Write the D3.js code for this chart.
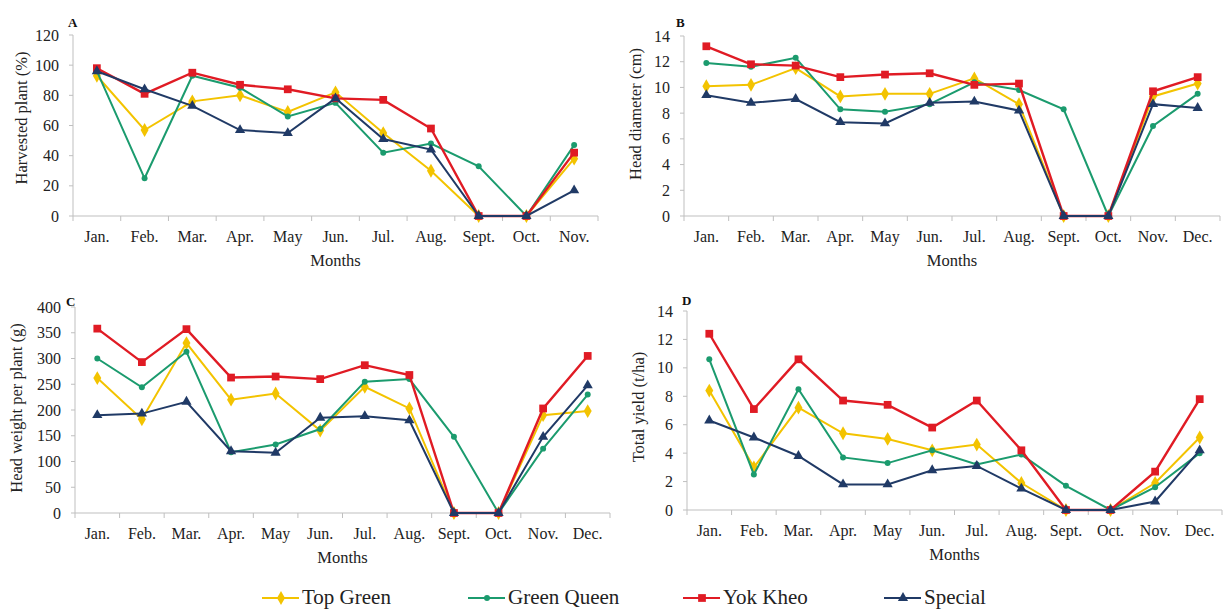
<!DOCTYPE html>
<html lang="en">
<head>
  <meta charset="UTF-8">
  <title>Monthly harvest, head size and yield</title>
  <script src="https://d3js.org/d3.v7.min.js"></script>
  <style>
    body { margin: 0; background: #ffffff; }
    text { font-family: "Liberation Serif", "DejaVu Serif", "Times New Roman", serif; }
    .axis-line { stroke: #bfbfbf; stroke-width: 1; fill: none; }
    .tick-label { font-size: 16px; fill: #222; }
    .axis-title { font-size: 16.5px; fill: #222; }
    .panel-letter { font-size: 13px; font-weight: bold; fill: #111; }
    .legend-text { font-size: 21px; fill: #222; }
  </style>
</head>
<body>
<svg width="1225" height="610"></svg>

<script>
  const months = ["Jan.", "Feb.", "Mar.", "Apr.", "May", "Jun.", "Jul.", "Aug.", "Sept.", "Oct.", "Nov.", "Dec."];
  const varieties = ["Top Green", "Green Queen", "Yok Kheo", "Special"];

  // A - harvested plant (%), Jan..Nov
  const harvestedTopGreen   = [93, 57, 76, 80, 69, 82, 55, 30, 0, 0, 38];
  const harvestedGreenQueen = [96, 25, 93, 85, 66, 75, 42, 48, 33, 0, 47];
  const harvestedYokKheo    = [98, 81, 95, 87, 84, 78, 77, 58, 0, 0, 42];
  const harvestedSpecial    = [96, 84, 73, 57, 55, 78, 51, 44, 0, 0, 17];

  // B - head diameter (cm)
  const diameterTopGreen   = [10.1, 10.2, 11.5, 9.3, 9.5, 9.5, 10.7, 8.7, 0, 0, 9.3, 10.3];
  const diameterGreenQueen = [11.9, 11.6, 12.3, 8.3, 8.1, 8.7, 10.4, 9.8, 8.3, 0, 7.0, 9.5];
  const diameterYokKheo    = [13.2, 11.8, 11.7, 10.8, 11.0, 11.1, 10.2, 10.3, 0, 0, 9.7, 10.8];
  const diameterSpecial    = [9.4, 8.8, 9.1, 7.3, 7.2, 8.8, 8.9, 8.2, 0, 0, 8.7, 8.4];

  // C - head weight per plant (g)
  const weightTopGreen   = [262, 182, 330, 220, 232, 160, 245, 203, 0, 0, 190, 198];
  const weightGreenQueen = [300, 244, 313, 118, 133, 163, 255, 260, 148, 0, 125, 230];
  const weightYokKheo    = [358, 293, 357, 263, 265, 260, 287, 268, 0, 0, 203, 305];
  const weightSpecial    = [190, 193, 216, 120, 117, 185, 188, 180, 0, 0, 148, 248];

  // D - total yield (t/ha)
  const yieldTopGreen   = [8.4, 3.0, 7.2, 5.4, 5.0, 4.2, 4.6, 1.9, 0, 0, 1.9, 5.1];
  const yieldGreenQueen = [10.6, 2.5, 8.5, 3.7, 3.3, 4.2, 3.2, 3.9, 1.7, 0, 1.6, 4.0];
  const yieldYokKheo    = [12.4, 7.1, 10.6, 7.7, 7.4, 5.8, 7.7, 4.2, 0, 0, 2.7, 7.8];
  const yieldSpecial    = [6.3, 5.1, 3.8, 1.8, 1.8, 2.8, 3.1, 1.5, 0, 0, 0.6, 4.2];

  const colors = {
    "Top Green": "#f3c300",
    "Green Queen": "#1b9b6e",
    "Yok Kheo": "#e01b24",
    "Special": "#203a66"
  };
  const symbols = {
    "Top Green": d3.symbol().type(d3.symbolDiamond).size(55),
    "Green Queen": d3.symbol().type(d3.symbolCircle).size(28),
    "Yok Kheo": d3.symbol().type(d3.symbolSquare).size(60),
    "Special": d3.symbol().type(d3.symbolTriangle).size(45)
  };

  const panels = [
    { letter: "A", title: "Harvested plant (%)", yMax: 120, yStep: 20, n: 11,
      left: 73, right: 598, top: 35, bottom: 216, titleX: 21, titleY: 118, letterX: 68, letterY: 27,
      series: [harvestedTopGreen, harvestedGreenQueen, harvestedYokKheo, harvestedSpecial] },
    { letter: "B", title: "Head diameter (cm)", yMax: 14, yStep: 2, n: 12,
      left: 684, right: 1220, top: 36, bottom: 216, titleX: 635, titleY: 114, letterX: 676, letterY: 27,
      series: [diameterTopGreen, diameterGreenQueen, diameterYokKheo, diameterSpecial] },
    { letter: "C", title: "Head weight per plant (g)", yMax: 400, yStep: 50, n: 12,
      left: 75, right: 610, top: 307, bottom: 513, titleX: 16, titleY: 408, letterX: 66, letterY: 306,
      series: [weightTopGreen, weightGreenQueen, weightYokKheo, weightSpecial] },
    { letter: "D", title: "Total yield (t/ha)", yMax: 14, yStep: 2, n: 12,
      left: 687, right: 1222, top: 311, bottom: 510, titleX: 638, titleY: 407, letterX: 682, letterY: 305,
      series: [yieldTopGreen, yieldGreenQueen, yieldYokKheo, yieldSpecial] }
  ];

  const svg = d3.select("svg");

  panels.forEach(p => {
    const cats = months.slice(0, p.n);
    const x = d3.scaleBand().domain(cats).range([p.left, p.right]).padding(0);
    const y = d3.scaleLinear().domain([0, p.yMax]).range([p.bottom, p.top]);
    const cx = m => x(m) + x.bandwidth() / 2;
    const g = svg.append("g");

    // axes
    g.append("line").attr("class", "axis-line")
      .attr("x1", p.left).attr("x2", p.left).attr("y1", y(p.yMax)).attr("y2", p.bottom);
    g.append("line").attr("class", "axis-line")
      .attr("x1", p.left).attr("x2", p.right).attr("y1", p.bottom).attr("y2", p.bottom);

    const yTicks = d3.range(0, p.yMax + p.yStep / 2, p.yStep);
    g.selectAll(".ytick").data(yTicks).join("line").attr("class", "axis-line")
      .attr("x1", p.left - 4).attr("x2", p.left)
      .attr("y1", d => y(d)).attr("y2", d => y(d));
    g.selectAll(".ylab").data(yTicks).join("text").attr("class", "tick-label")
      .attr("x", p.left - 14).attr("y", d => y(d)).attr("dy", "0.35em")
      .attr("text-anchor", "end").text(d => d);

    const bounds = cats.map(m => x(m)).concat([p.right]);
    g.selectAll(".xtick").data(bounds).join("line").attr("class", "axis-line")
      .attr("x1", d => d).attr("x2", d => d).attr("y1", p.bottom).attr("y2", p.bottom + 5);
    g.selectAll(".xlab").data(cats).join("text").attr("class", "tick-label")
      .attr("x", cx).attr("y", p.bottom + 26).attr("text-anchor", "middle").text(d => d);

    g.append("text").attr("class", "axis-title")
      .attr("x", (p.left + p.right) / 2).attr("y", p.bottom + 50)
      .attr("text-anchor", "middle").text("Months");
    g.append("text").attr("class", "axis-title")
      .attr("transform", `translate(${p.titleX},${p.titleY}) rotate(-90)`)
      .attr("dy", "0.35em").attr("text-anchor", "middle").text(p.title);
    g.append("text").attr("class", "panel-letter")
      .attr("x", p.letterX).attr("y", p.letterY).text(p.letter);

    // series
    const line = d3.line().x((d, i) => cx(cats[i])).y(d => y(d));
    p.series.forEach((vals, si) => {
      const name = varieties[si];
      g.append("path").datum(vals)
        .attr("fill", "none").attr("stroke", colors[name])
        .attr("stroke-width", name === "Yok Kheo" ? 2.4 : 2)
        .attr("d", line);
      g.selectAll(null).data(vals).join("path")
        .attr("transform", (d, i) => `translate(${cx(cats[i])},${y(d)})`)
        .attr("d", symbols[name]())
        .attr("fill", colors[name]);
    });
  });

  // legend
  const legendX = [262, 468, 683, 884];
  const legendY = 598;
  const lg = svg.append("g");
  varieties.forEach((name, i) => {
    const x0 = legendX[i];
    lg.append("line").attr("x1", x0).attr("x2", x0 + 37)
      .attr("y1", legendY).attr("y2", legendY)
      .attr("stroke", colors[name]).attr("stroke-width", 2);
    lg.append("path").attr("transform", `translate(${x0 + 19},${legendY})`)
      .attr("d", symbols[name]()).attr("fill", colors[name]);
    lg.append("text").attr("class", "legend-text")
      .attr("x", x0 + 40).attr("y", legendY + 6).text(name);
  });
</script>
</body>
</html>
